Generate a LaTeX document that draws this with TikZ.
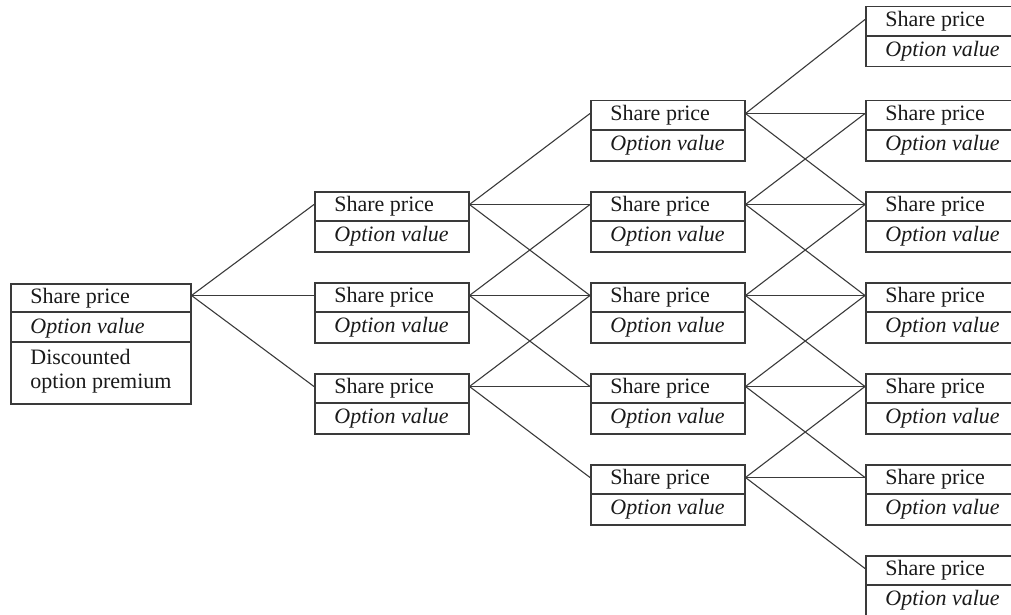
\documentclass[tikz,border=0pt]{standalone}
\usepackage{fontspec}
\setmainfont{Liberation Serif}
\usetikzlibrary{calc}
\definecolor{ink}{HTML}{1A1A1A}
\definecolor{rulegray}{HTML}{3A3A3A}
\tikzset{
  boxframe/.style={draw=rulegray, line width=0.75pt, inner sep=0pt, anchor=north west, minimum height=30pt},
  boxrule/.style={draw=rulegray, line width=0.6pt},
  lbl/.style={anchor=west, inner sep=0pt, text=ink, font=\fontsize{11}{13}\selectfont},
  link/.style={draw=rulegray, line width=0.55pt}
}
% #1 width, #2 name, #3 left, #4 top (units: px)
\newcommand\pricebox[4][77pt]{%
  \node[boxframe, minimum width=#1] (#2) at (#3,#4) {};
  \draw[boxrule] ($(#2.north west)+(0,30)$) -- ($(#2.north east)+(0,30)$);
  \node[lbl] at ($(#2.north west)+(20,15)$) {Share price};
  \node[lbl] at ($(#2.north west)+(20,45)$) {\itshape Option value};
  \coordinate (#2-l) at ($(#2.north west)+(0,13.5)$);
  \coordinate (#2-r) at ($(#2.north east)+(0,13.5)$);
}
\begin{document}
\begin{tikzpicture}[x=0.5pt, y=-0.5pt]
\useasboundingbox (0,0) rectangle (1011,615);
\clip (0,0) rectangle (1011,615);

% root: three rows
\node[boxframe, minimum width=90pt, minimum height=60pt] (b-0-1) at (10,283) {};
\draw[boxrule] ($(b-0-1.north west)+(0,29)$) -- ($(b-0-1.north east)+(0,29)$);
\draw[boxrule] ($(b-0-1.north west)+(0,59)$) -- ($(b-0-1.north east)+(0,59)$);
\node[lbl] at ($(b-0-1.north west)+(20,15)$) {Share price};
\node[lbl] at ($(b-0-1.north west)+(20,45)$) {\itshape Option value};
\node[lbl, align=left, font=\fontsize{11}{12}\selectfont] at ($(b-0-1.north west)+(20,88)$) {Discounted\\option premium};
\coordinate (b-0-1-r) at ($(b-0-1.north east)+(0,12.5)$);

% first step
\pricebox{b-1-1}{314}{191}
\pricebox{b-1-2}{314}{282}
\pricebox{b-1-3}{314}{373}

% second step
\pricebox{b-2-1}{590}{100}
\pricebox{b-2-2}{590}{191}
\pricebox{b-2-3}{590}{282}
\pricebox{b-2-4}{590}{373}
\pricebox{b-2-5}{590}{464}

% third step
\pricebox[100pt]{b-3-1}{865}{6}
\pricebox[100pt]{b-3-2}{865}{100}
\pricebox[100pt]{b-3-3}{865}{191}
\pricebox[100pt]{b-3-4}{865}{282}
\pricebox[100pt]{b-3-5}{865}{373}
\pricebox[100pt]{b-3-6}{865}{464}
\pricebox[100pt]{b-3-7}{865}{555}

% up / level / down branches
\foreach \k/\n in {0/1,1/3,2/5}{
  \foreach \j in {1,...,\n}{
    \foreach \d in {0,1,2}{
      \pgfmathtruncatemacro\t{\j+\d}
      \pgfmathtruncatemacro\kk{\k+1}
      \draw[link] (b-\k-\j-r) -- (b-\kk-\t-l);
    }
  }
}
\end{tikzpicture}
\end{document}
